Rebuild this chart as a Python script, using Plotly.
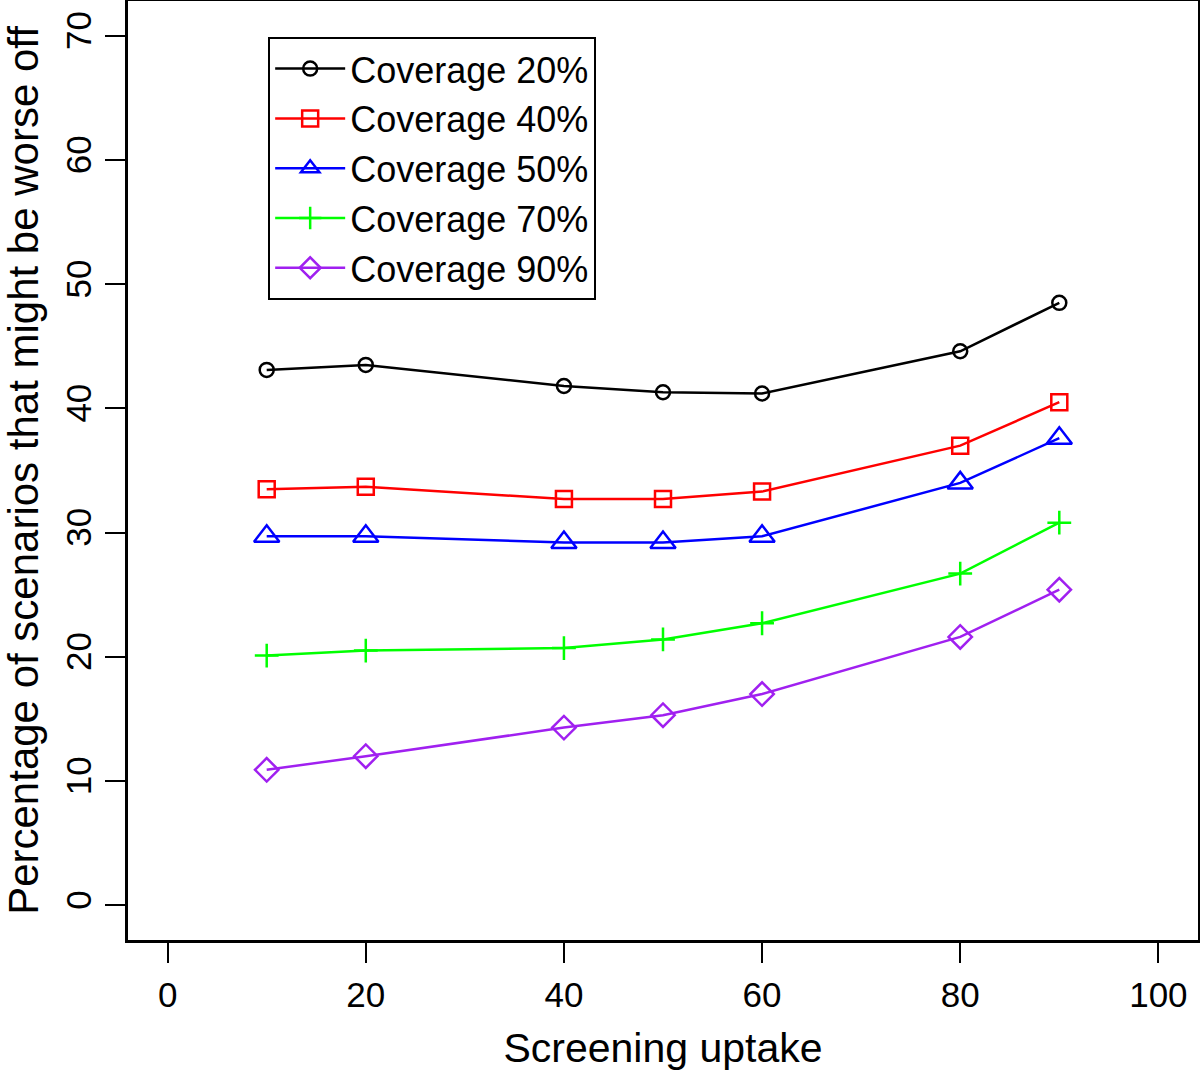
import plotly.graph_objects as go

uptake = [10, 20, 40, 50, 60, 80, 90]
cov20 = [43.1, 43.5, 41.8, 41.3, 41.2, 44.6, 48.5]
cov40 = [33.5, 33.7, 32.7, 32.7, 33.3, 37.0, 40.5]
cov50 = [29.7, 29.7, 29.2, 29.2, 29.7, 34.0, 37.6]
cov70 = [20.1, 20.5, 20.7, 21.4, 22.7, 26.7, 30.8]
cov90 = [10.9, 12.0, 14.3, 15.3, 17.0, 21.6, 25.4]

series = [
    ("Coverage 20%", cov20, "#000000", "circle-open", 14),
    ("Coverage 40%", cov40, "#FF0000", "square-open", 16),
    ("Coverage 50%", cov50, "#0000FF", "triangle-up-open", 22),
    ("Coverage 70%", cov70, "#00FF00", "cross-thin-open", 17),
    ("Coverage 90%", cov90, "#A020F0", "diamond-open", 18),
]

fig = go.Figure()
for name, vals, color, sym, size in series:
    fig.add_trace(go.Scatter(
        x=uptake, y=vals, name=name, mode="lines+markers",
        line=dict(color=color, width=2.5),
        marker=dict(symbol=sym, size=size, color=color, line=dict(color=color, width=2.5)),
    ))

fam = "Liberation Sans, Arial, Helvetica, sans-serif"
fig.update_layout(
    width=1200, height=1071,
    margin=dict(l=128, r=2, t=1, b=131, autoexpand=False),
    plot_bgcolor="white", paper_bgcolor="white",
    font=dict(family=fam, color="black"),
    showlegend=True,
    legend=dict(
        x=0.131, y=0.962, xanchor="left", yanchor="top",
        bordercolor="black", borderwidth=2, bgcolor="white",
        font=dict(family=fam, size=36, color="black"),
        itemwidth=70, tracegroupgap=0,
    ),
    xaxis=dict(
        range=[-4, 104], tickvals=[0, 20, 40, 60, 80, 100],
        showgrid=False, zeroline=False, automargin=False,
        showline=True, linecolor="black", linewidth=2.5, mirror=True,
        ticks="outside", ticklen=20, tickwidth=2, tickcolor="black",
        tickfont=dict(size=35, family=fam), ticklabelstandoff=2,
        title=dict(text="Screening uptake", font=dict(size=41, family=fam), standoff=22),
    ),
    yaxis=dict(
        range=[-2.8, 72.8], tickvals=[0, 10, 20, 30, 40, 50, 60, 70],
        showgrid=False, zeroline=False, automargin=False,
        showline=True, linecolor="black", linewidth=2.5, mirror=True,
        ticks="outside", ticklen=20, tickwidth=2, tickcolor="black",
        tickangle=-90, tickfont=dict(size=35, family=fam), ticklabelstandoff=0,
        title=dict(text="Percentage of scenarios that might be worse off", font=dict(size=42, family=fam), standoff=14),
    ),
)
fig.write_html("out.html", config={"displayModeBar": False},
               post_script="document.body.style.margin='0';")
